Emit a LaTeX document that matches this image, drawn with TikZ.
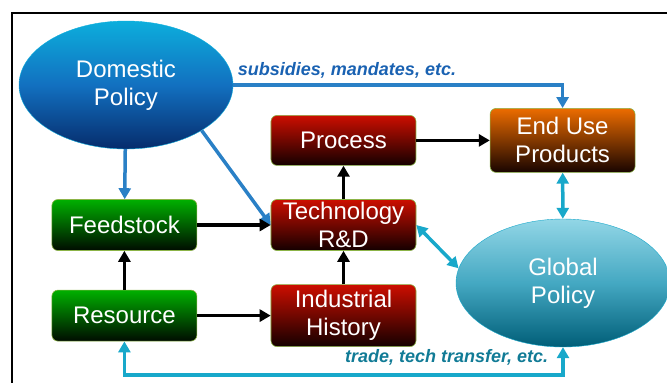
\documentclass[tikz,border=0pt]{standalone}
\usepackage{fontspec}
\setmainfont{Liberation Sans}
\usepackage{tikz}
\usetikzlibrary{matrix,shapes,arrows,arrows.meta,shadows}

\definecolor{domtop}{HTML}{0CAEDC}
\definecolor{dommid}{HTML}{1270C0}
\definecolor{dombot}{HTML}{062C6C}
\definecolor{globtop}{HTML}{92D6E6}
\definecolor{globmid}{HTML}{44A8C2}
\definecolor{globbot}{HTML}{005E78}
\definecolor{grntop}{HTML}{00B000}
\definecolor{grnbot}{HTML}{000C00}
\definecolor{redtop}{HTML}{CC0E00}
\definecolor{redbot}{HTML}{140000}
\definecolor{orgtop}{HTML}{EC6C00}
\definecolor{orgbot}{HTML}{180400}
\definecolor{boxedge}{HTML}{8CB448}
\definecolor{bluelink}{HTML}{2A80C6}
\definecolor{bluetext}{HTML}{1A62B2}
\definecolor{cyanlink}{HTML}{18A8CA}
\definecolor{cyantext}{HTML}{117B96}

\begin{document}
\begin{tikzpicture}[x=1pt, y=-1pt, >={Triangle[length=11pt, width=12pt]}]
      \tikzstyle{box} = [rectangle, rounded corners=6pt, draw=boxedge, semithick, text=white, align=center, inner sep=2pt, minimum width=145pt, font=\fontsize{24}{28}\selectfont]
      \tikzstyle{grnbox} = [box, top color=grntop, bottom color=grnbot]
      \tikzstyle{redbox} = [box, top color=redtop, bottom color=redbot]
      \tikzstyle{orgbox} = [box, top color=orgtop, bottom color=orgbot]
      \tikzstyle{policy} = [ellipse, text=white, align=center, inner sep=0pt, minimum width=214pt, minimum height=128pt, font=\fontsize{24}{28}\selectfont]
      \tikzstyle{flow} = [line width=3.5pt, ->]
      \tikzstyle{note} = [inner sep=0pt, font=\fontsize{18}{20}\selectfont\bfseries\itshape]
      \useasboundingbox (0,0) rectangle (667,383);
      \draw [line width=2pt] (12,383) -- (12,13) -- (667,13);
      \node (dom) [policy, draw=domtop, top color=domtop, bottom color=dombot, middle color=dommid] at (126,85) {Domestic\\Policy};
      \node (glob) [policy, draw=cyanlink, top color=globtop, bottom color=globbot, middle color=globmid] at (563,283) {Global\\Policy};
      \matrix[column sep = 73.5pt] at (343.5,227.5) {
        % first row
        &
        \node (proc) [redbox, minimum height=50pt] {Process};&
        \node (use) [orgbox, minimum height=64pt] {End Use\\Products};\\[26.5pt]
        % second row
        \node (feed) [grnbox, minimum height=51pt] {Feedstock};&
        \node (tech) [redbox, minimum height=51pt] {Technology\\R\&D};&
        \\[33.5pt]
        % third row
        \node (res) [grnbox, minimum height=51pt] {Resource};&
        \node (ind) [redbox, minimum height=62pt] {Industrial\\History};&
        \\
      };
      \draw [flow, bluelink] (dom.east) -| node (sub) [note, text=bluetext, pos=0, anchor=base west, xshift=3pt, yshift=10pt] {subsidies, mandates, etc.} (use.north);
      \draw [flow, bluelink] (dom) -- (feed);
      \draw [flow, bluelink] (dom.-31) -- (tech.west);
      \draw [flow] (feed) -- (tech);
      \draw [flow] (res) -- (ind);
      \draw [flow] (res) -- (feed);
      \draw [flow] (ind) -- (tech);
      \draw [flow] (tech) -- (proc);
      \draw [flow] (proc) -- (use);
      \draw [flow, cyanlink, <->] (use) -- (glob);
      \draw [flow, cyanlink, <->] (tech.east) -- (glob.172);
      \draw [flow, cyanlink, <->] (glob.south) -- node (trade) [note, text=cyantext, pos=1, anchor=base east, xshift=-13pt, yshift=13pt] {trade, tech transfer, etc.} ++(0,28) -| (res.south);
    \end{tikzpicture}
\end{document}
